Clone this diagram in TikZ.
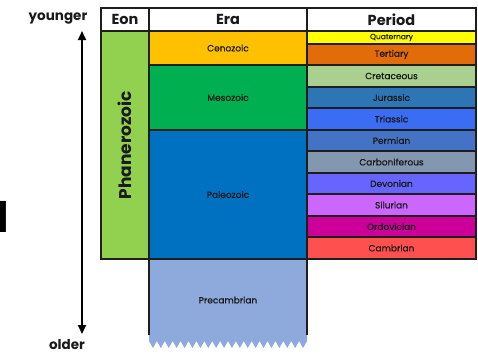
\documentclass[tikz,border=0pt]{standalone}
\usepackage{fontspec}
\setmainfont{Poppins}
\newfontfamily\lblfont{Poppins}[FakeBold=0.7]
\usetikzlibrary{arrows.meta}
\definecolor{lineC}{HTML}{1E1E1E}
\definecolor{txtC}{HTML}{1A1A1A}
\definecolor{cPhan}{HTML}{92D050}
\definecolor{cCeno}{HTML}{FFC000}
\definecolor{cMeso}{HTML}{00B050}
\definecolor{cPaleo}{HTML}{0070C0}
\definecolor{cPre}{HTML}{8EA9DB}
\definecolor{cQuat}{HTML}{FFFF00}
\definecolor{cTert}{HTML}{E26B0A}
\definecolor{cCret}{HTML}{A9D08E}
\definecolor{cJur}{HTML}{2E75B6}
\definecolor{cTri}{HTML}{3A6CF4}
\definecolor{cPerm}{HTML}{4472C4}
\definecolor{cCarb}{HTML}{8497B0}
\definecolor{cDev}{HTML}{6666FF}
\definecolor{cSil}{HTML}{CC66FF}
\definecolor{cOrd}{HTML}{CC0099}
\definecolor{cCamb}{HTML}{FF5050}
\begin{document}
\begin{tikzpicture}[x=1pt,y=-1pt,
  cellbox/.style={draw=lineC, line width=1.2pt, inner sep=0pt, outer sep=0pt,
    anchor=north west, text=txtC, font=\lblfont\fontsize{9}{10}\selectfont},
  headbox/.style={cellbox, fill=white, minimum height=23pt,
    font=\fontsize{14.5}{16}\selectfont\bfseries},
  eralbl/.style={text=txtC, inner sep=0pt, font=\lblfont\fontsize{9}{10}\selectfont},
  sidelbl/.style={text=txtC, inner sep=0pt, font=\fontsize{13.5}{15}\selectfont\bfseries}]
\useasboundingbox (0,0) rectangle (478,354);
\clip (0,0) rectangle (478,354);
\fill[white] (0,0) rectangle (478,354);

% header
\node[headbox, minimum width=48pt] (eon) at (101,8) {Eon};
\node[headbox, minimum width=158pt] (era) at (149,8) {Era};
\node[headbox, minimum width=169pt] (period) at (307,8) {Period};

% eon
\node[cellbox, fill=cPhan, minimum width=48pt, minimum height=228pt] (phan) at (101,31) {};
\node[rotate=90, text=txtC, inner sep=0pt, font=\fontsize{17}{18}\selectfont\bfseries] (phanlbl) at (phan.center) {Phanerozoic};

% eras
\node[cellbox, fill=cCeno, minimum width=158pt, minimum height=34pt] (ceno) at (149,31) {Cenozoic};
\node[cellbox, fill=cMeso, minimum width=158pt, minimum height=65pt] (meso) at (149,65) {Mesozoic};
\node[cellbox, fill=cPaleo, minimum width=158pt, minimum height=129pt] (paleo) at (149,130) {Paleozoic};

% periods
\node[cellbox, fill=cQuat, minimum width=169pt, minimum height=13pt, font=\lblfont\fontsize{7.5}{8}\selectfont] (quat) at (307,31) {Quaternary};
\node[cellbox, fill=cTert, minimum width=169pt, minimum height=21pt] (tert) at (307,44) {Tertiary};
\node[cellbox, fill=cCret, minimum width=169pt, minimum height=22pt] (cret) at (307,65) {Cretaceous};
\node[cellbox, fill=cJur, minimum width=169pt, minimum height=21pt] (jur) at (307,87) {Jurassic};
\node[cellbox, fill=cTri, minimum width=169pt, minimum height=22pt] (tri) at (307,108) {Triassic};
\node[cellbox, fill=cPerm, minimum width=169pt, minimum height=21pt] (perm) at (307,130) {Permian};
\node[cellbox, fill=cCarb, minimum width=169pt, minimum height=22pt] (carb) at (307,151) {Carboniferous};
\node[cellbox, fill=cDev, minimum width=169pt, minimum height=21pt] (dev) at (307,173) {Devonian};
\node[cellbox, fill=cSil, minimum width=169pt, minimum height=22pt] (sil) at (307,194) {Silurian};
\node[cellbox, fill=cOrd, minimum width=169pt, minimum height=21pt] (ord) at (307,216) {Ordovician};
\node[cellbox, fill=cCamb, minimum width=169pt, minimum height=22pt] (camb) at (307,237) {Cambrian};

% precambrian (torn bottom)
\fill[cPre] (149,259.6) -- (307,259.6) -- (307,341)
  \foreach \i in {0,...,19} { -- ({307-\i*7.9-3.95},348) -- ({307-(\i+1)*7.9},341) } -- cycle;
\draw[lineC, line width=1.2pt] (149,259) -- (149,335);
\draw[lineC, line width=1.2pt] (307,259) -- (307,335);
\draw[lineC, line width=1.2pt] (paleo.south west) -- (paleo.south east);
\node[eralbl] (pre) at (228,300) {Precambrian};

% time arrow
\coordinate (atop) at (82,31);
\coordinate (abot) at (82,334);
\draw[black, line width=1.8pt, {Triangle[length=9pt,width=8pt]}-{Triangle[length=9pt,width=8pt]}] (atop) -- (abot);
\node[sidelbl] (younger) at (58,19) {younger};
\node[sidelbl] (older) at (67,345) {older};

% cut-off letter at left edge
\node[anchor=base east, inner sep=0pt, font=\fontsize{42}{44}\selectfont\bfseries] (cut) at (9,232) {d};
\end{tikzpicture}
\end{document}
